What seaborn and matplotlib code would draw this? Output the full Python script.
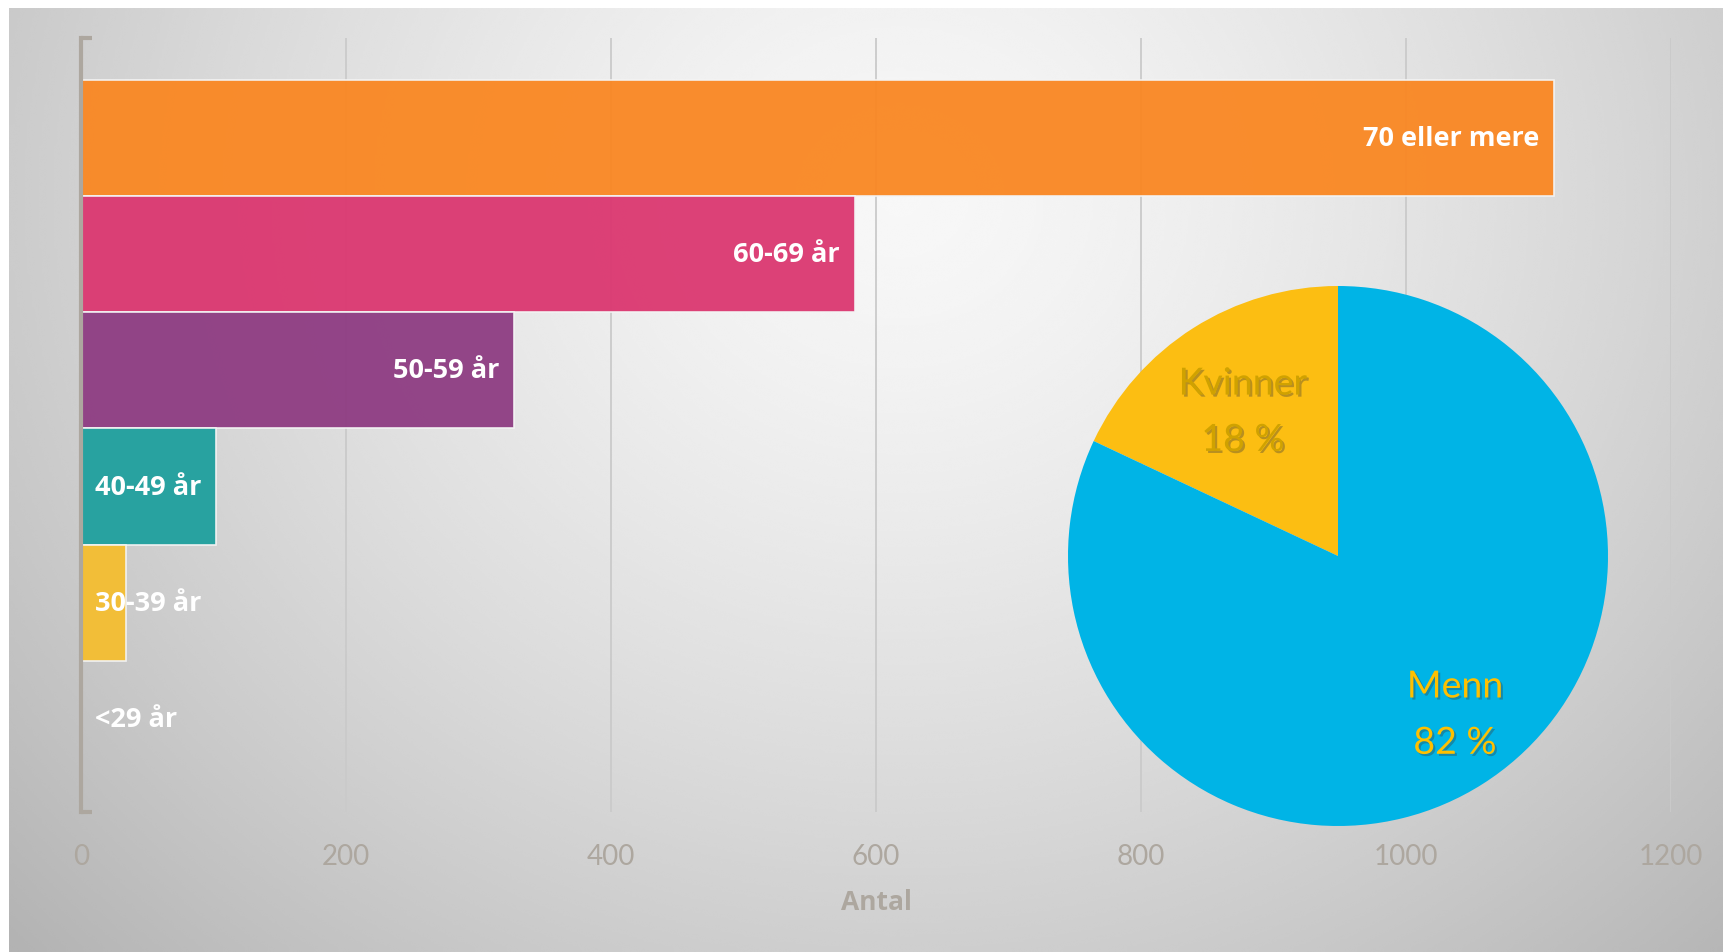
import numpy as np
import matplotlib
matplotlib.use("Agg")
import matplotlib.pyplot as plt
import matplotlib.patheffects as pe
import seaborn as sns

# data
categories = ["70 eller mere", "60-69 år", "50-59 år", "40-49 år", "30-39 år", "<29 år"]
counts = [1112, 584, 327, 102, 34, 1]
bar_colors = ["#FA8722", "#DB3770", "#8E3C82", "#1FA09E", "#F5BE30", "#F2F2F2"]
sexes = ["Kvinner", "Menn"]
shares = [18, 82]
pie_colors = ["#FCBE12", "#00B4E6"]
xticks = [0, 200, 400, 600, 800, 1000, 1200]

sns.set_theme(style="white")
plt.rcParams["font.family"] = ["Open Sans", "DejaVu Sans"]

W, H = 1723, 953
fig = plt.figure(figsize=(W / 100, H / 100), dpi=100)
fig.patch.set_facecolor("white")

# background gradient panel
bg = fig.add_axes([9 / W, 0, 1 - 9 / W, 1 - 9 / H])
yy, xx = np.mgrid[0:1:400j, 0:1:700j]
d = np.sqrt(((xx - 0.52) / 0.62) ** 2 + ((yy - 0.80) / 1.0) ** 2)
shade = 0.97 - 0.22 * np.clip(d, 0, 1.2) ** 1.4
bg.imshow(shade, cmap="gray", vmin=0, vmax=1, origin="lower",
          extent=[0, 1, 0, 1], aspect="auto", interpolation="bicubic")
bg.set_axis_off()

# bar chart
ax = fig.add_axes([81 / W, 1 - 813 / H, (1671 - 81) / W, (813 - 39) / H])
ax.patch.set_alpha(0)
sns.barplot(x=counts, y=categories, hue=categories, palette=bar_colors,
            legend=False, width=1.0, orient="h", ax=ax, saturation=1,
            edgecolor="#F4F4F4", linewidth=1.2, alpha=0.95, zorder=2)
ax.set_xlim(0, 1200)
ax.set_ylim(5.8, -0.86)
ax.set_xticks(xticks)
ax.xaxis.grid(True, color="#CACACA", linewidth=1.3, zorder=0)
ax.set_axisbelow(True)
ax.set_yticks([])
ax.set_ylabel("")
for s in ["top", "right", "bottom"]:
    ax.spines[s].set_visible(False)
ax.spines["left"].set_color("#ADA79F")
ax.spines["left"].set_linewidth(3)
ax.spines["left"].set_zorder(3)
# bracket caps
for yv in (0, 1):
    ax.plot([0, 0.007], [yv, yv], transform=ax.transAxes, color="#ADA79F",
            lw=3, solid_capstyle="butt", clip_on=False, zorder=3)
ax.tick_params(axis="x", length=0, pad=22, labelsize=20, labelcolor="#ADA79F")
for t in ax.get_xticklabels():
    t.set_family(["Lato", "DejaVu Sans"])
ax.set_xlabel("Antal", fontsize=19, fontweight="bold", color="#ADA79F", labelpad=14)

for i, (c, v) in enumerate(zip(categories, counts)):
    if v > 200:
        ax.annotate(c, xy=(v, i), xytext=(-11, 0), textcoords="offset points",
                    ha="right", va="center", color="white", fontsize=19.5,
                    fontweight="bold", zorder=4)
    else:
        ax.annotate(c, xy=(0, i), xytext=(10, 0), textcoords="offset points",
                    ha="left", va="center", color="white", fontsize=19.5,
                    fontweight="bold", zorder=4)

# pie inset
pax = fig.add_axes([1068 / W, 1 - 827 / H, 540 / W, 540 / H])
pie_labels = [f"{s}\n{p} %" for s, p in zip(sexes, shares)]
wedges, texts = pax.pie(shares, labels=pie_labels, colors=pie_colors,
                        startangle=90, counterclock=True, labeldistance=0.69,
                        wedgeprops=dict(edgecolor="none", linewidth=0),
                        textprops=dict(fontsize=27, color="#FFC000",
                                       family=["Lato", "DejaVu Sans"],
                                       ha="center", va="center",
                                       linespacing=1.7))
texts[0].set_color("#D0A200")
# label placement per wedge (distance from centre, angle nudge)
for w, t, r, da in zip(wedges, texts, [0.64, 0.73], [1, 4]):
    ang = np.deg2rad((w.theta1 + w.theta2) / 2 + da)
    t.set_position((r * np.cos(ang), r * np.sin(ang)))
    t.set_path_effects([pe.SimplePatchShadow(offset=(1.5, -1.5),
                                             shadow_rgbFace="#3a3a3a", alpha=0.35),
                        pe.Normal()])
pax.set_xlim(-1, 1)
pax.set_ylim(-1, 1)

fig.savefig("out.png", dpi=100)
